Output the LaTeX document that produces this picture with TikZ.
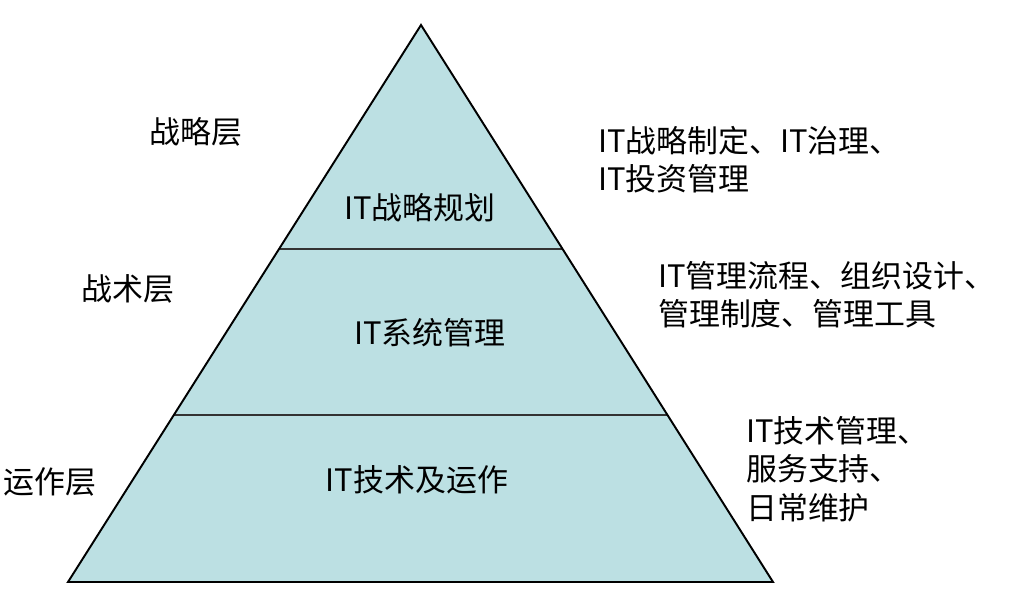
\documentclass[tikz,border=0pt]{standalone}
\usepackage{fontspec}
\setmainfont{Noto Sans CJK SC}
\usetikzlibrary{calc}
\definecolor{pyrfill}{HTML}{BCE0E3}
\begin{document}
\begin{tikzpicture}[x=0.02cm,y=-0.02cm,font=\fontsize{17.6}{21.8}\selectfont,align=left]
\useasboundingbox (0,0) rectangle (1023,597);
\coordinate (top) at (421,25);
\coordinate (bl) at (68,582);
\coordinate (br) at (773,582);
\fill[pyrfill] (top) -- (bl) -- (br) -- cycle;
\draw[black!80,line width=0.9pt] ($(top)!0.402!(bl)$) -- ($(top)!0.402!(br)$);
\draw[black!80,line width=0.9pt] ($(top)!0.700!(bl)$) -- ($(top)!0.700!(br)$);
\draw[line width=1.1pt,line join=miter] (top) -- (bl) -- (br) -- cycle;
% layer names
\node (strat) at (196,132) {战略层};
\node (tact) at (128,289) {战术层};
\node (oper) at (50,482) {运作层};
% pyramid levels
\node (plan) at (420,208) {IT战略规划};
\node (sysm) at (430,333) {IT系统管理};
\node (tech) at (417,480) {IT技术及运作};
% descriptions
\node[anchor=west] (d1) at (592,160) {IT战略制定、IT治理、\\IT投资管理};
\node[anchor=west] (d2) at (652,295) {IT管理流程、组织设计、\\管理制度、管理工具};
\node[anchor=west] (d3) at (740,469) {IT技术管理、\\服务支持、\\日常维护};
\end{tikzpicture}
\end{document}
